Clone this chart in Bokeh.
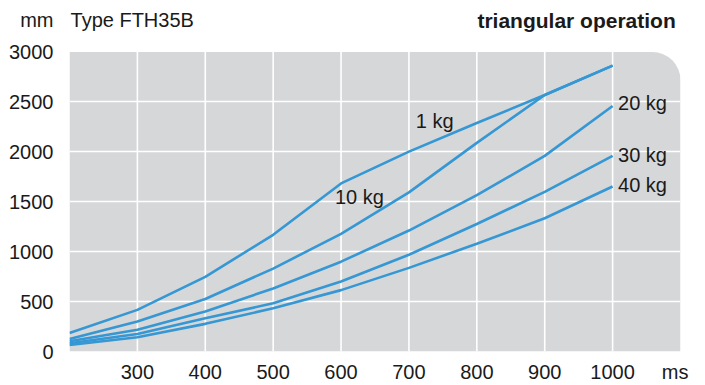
from bokeh.plotting import figure
from bokeh.models import Range1d, FixedTicker, BoxAnnotation
from bokeh.core.properties import value
from bokeh.embed import file_html
from bokeh.resources import INLINE

# time in ms
time_ms = [200, 300, 400, 500, 600, 700, 800, 900, 1000]
# stroke in mm per load
kg1 = [185, 417, 748, 1169, 1684, 2003, 2290, 2570, 2865]
kg10 = [125, 301, 526, 831, 1179, 1594, 2090, 2570, 2865]
kg20 = [102, 218, 400, 632, 900, 1212, 1566, 1960, 2460]
kg30 = [82, 175, 334, 483, 702, 970, 1278, 1600, 1960]
kg40 = [65, 142, 277, 433, 615, 838, 1080, 1335, 1653]
series_labels = ["1 kg", "10 kg", "20 kg", "30 kg", "40 kg"]
x_ticks = [300, 400, 500, 600, 700, 800, 900, 1000]
y_ticks = [0, 500, 1000, 1500, 2000, 2500, 3000]
x_unit = "ms"
y_unit = "mm"
title_left = "Type FTH35B"
title_right = "triangular operation"

FONT = "Liberation Sans"
BLUE = "#3597d3"
GREY = "#d6d7d9"
TXT = "#1a1a1a"
FS = "20px"

X0, X1 = 200, 1100
Y0, Y1 = 0, 3000
Y_TOP = 3517       # headroom above the grey panel for the header line
HEAD_Y = 3318      # vertical position of the header line
X_UNIT_POS = 1092  # where "ms" sits along the x axis

p = figure(width=705, height=385, output_backend="svg", toolbar_location=None,
           x_range=Range1d(X0, X1), y_range=Range1d(Y0, Y_TOP),
           min_border_left=69, min_border_right=25, min_border_top=0, min_border_bottom=31)
p.background_fill_color = "white"
p.border_fill_color = "white"
p.outline_line_color = None

try:
    bg = BoxAnnotation(left=X0, right=X1, bottom=Y0, top=Y1, fill_color=GREY, fill_alpha=1,
                       line_color=None, level="image",
                       border_radius=dict(top_left=0, top_right=28, bottom_right=0, bottom_left=0))
except Exception:
    bg = BoxAnnotation(left=X0, right=X1, bottom=Y0, top=Y1, fill_color=GREY, fill_alpha=1,
                       line_color=None, level="image")
p.add_layout(bg)

p.xaxis.ticker = FixedTicker(ticks=x_ticks + [X_UNIT_POS])
p.xaxis.major_label_overrides = {X_UNIT_POS: x_unit}
p.yaxis.ticker = FixedTicker(ticks=y_ticks + [HEAD_Y])
p.yaxis.major_label_overrides = {HEAD_Y: y_unit}
for ax in (p.xaxis[0], p.yaxis[0]):
    ax.axis_line_color = None
    ax.major_tick_line_color = None
    ax.minor_tick_line_color = None
    ax.major_tick_out = 0
    ax.major_tick_in = 0
    ax.minor_tick_out = 0
    ax.minor_tick_in = 0
    ax.major_label_text_font = FONT
    ax.major_label_text_font_size = FS
    ax.major_label_text_color = TXT
p.yaxis.major_label_standoff = 16
p.xaxis.major_label_standoff = 9

# grid: horizontal via the grid, vertical as white rules limited to the panel
p.xgrid.visible = False
p.ygrid.ticker = FixedTicker(ticks=y_ticks[1:-1])
p.ygrid.grid_line_color = "white"
p.ygrid.grid_line_width = 1.6
p.segment(x0=x_ticks, y0=[Y0] * len(x_ticks), x1=x_ticks, y1=[Y1] * len(x_ticks),
          line_color="white", line_width=1.6, level="underlay")

for ys in (kg1, kg10, kg20, kg30, kg40):
    p.line(time_ms, ys, line_color=BLUE, line_width=2.6)

# series labels
lab_x = [710, 591, 1008, 1008, 1008]
lab_y = [2312, 1547, 2491, 1973, 1664]
p.text(x=lab_x, y=lab_y, text=series_labels, text_font=value(FONT), text_font_size=FS,
       text_baseline="middle", text_align="left", text_color=TXT)

# header line
p.text(x=[201.5], y=[HEAD_Y], text=[title_left], text_font=value(FONT), text_font_size=FS,
       text_align="left", text_baseline="middle", text_color=TXT)
p.text(x=[1093], y=[HEAD_Y], text=[title_right], text_font=value(FONT), text_font_size="21px",
       text_align="right", text_baseline="middle", text_color=TXT, text_font_style="bold")

open("out.html", "w").write(file_html(p, INLINE))
